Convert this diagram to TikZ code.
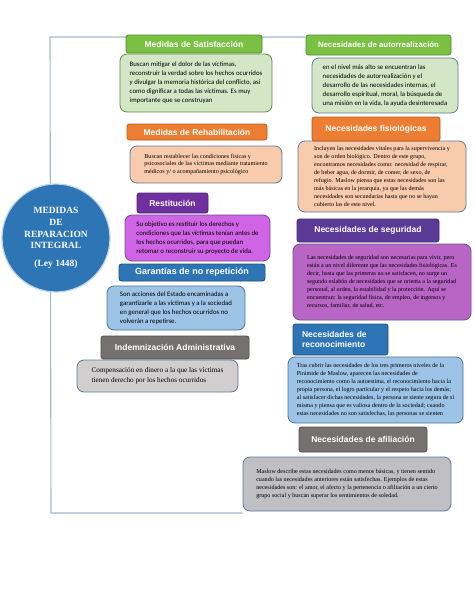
\documentclass[tikz,border=0pt]{standalone}
\usepackage{fontspec}
\setmainfont{Liberation Serif}
\setsansfont{Liberation Sans}
\newfontfamily\calfont{Carlito}
\usepackage{tikz}
\usetikzlibrary{positioning,backgrounds}

\definecolor{grnH}{HTML}{7AC143}
\definecolor{grnD}{HTML}{4F8A2B}
\definecolor{grnB}{HTML}{D3E7C6}
\definecolor{orgH}{HTML}{ED7D31}
\definecolor{orgD}{HTML}{B55A1D}
\definecolor{orgB}{HTML}{F8CBAD}
\definecolor{purH}{HTML}{7030A0}
\definecolor{purD}{HTML}{4B1F6F}
\definecolor{magB}{HTML}{D064E6}
\definecolor{indH}{HTML}{5A3A96}
\definecolor{indD}{HTML}{3F2A6E}
\definecolor{orcB}{HTML}{B865C5}
\definecolor{bluH}{HTML}{2E75B6}
\definecolor{bluD}{HTML}{1F4E79}
\definecolor{bluB}{HTML}{9DC3E6}
\definecolor{gryH}{HTML}{767171}
\definecolor{gryD}{HTML}{4D4D4D}
\definecolor{gryB}{HTML}{D0CECE}
\definecolor{gryC}{HTML}{BFBFC4}
\definecolor{edge}{HTML}{5B7A99}
\definecolor{linkc}{HTML}{A5B8CC}

\begin{document}
\begin{tikzpicture}[
    x=1pt, y=-1pt,
    hdr/.style={draw, rounded corners=2.5pt, line width=0.8pt, text=white, inner sep=0pt,
                align=center, font=\sffamily\bfseries\fontsize{8.5}{10}\selectfont},
    body/.style={draw=edge, rounded corners=7pt, line width=0.8pt, inner sep=0pt, align=left},
    calbody/.style={body, font=\calfont\fontsize{6.8}{9}\selectfont},
    serbody/.style={body, font=\fontsize{6.1}{7.9}\selectfont},
    link/.style={draw=linkc, line width=1.1pt}
]
\useasboundingbox (0,0) rectangle (474,613);

% left column: medidas
\node[calbody, fill=grnB, draw=grnD!70!gray, minimum width=152pt, minimum height=58pt] (bSat) at (196,83)
  {Buscan mitigar el dolor de las víctimas,\\ reconstruir la verdad sobre los hechos ocurridos\\ y divulgar la memoria histórica del conflicto, así\\ como dignificar a todas las víctimas. Es muy\\ importante que se construyan};
\node[hdr, fill=grnH, draw=grnD, minimum width=136pt, minimum height=18pt] (hSat) at (194,44) {Medidas de Satisfacción};

\node[serbody, fill=orgB, minimum width=152pt, minimum height=37pt] (bReh) at (206,164.5)
  {Buscan restablecer las condiciones físicas y\\ psicosociales de las víctimas mediante tratamiento\\ médicos y/ o acompañamiento psicológico};
\node[hdr, fill=orgH, draw=orgD, minimum width=140pt, minimum height=16pt] (hReh) at (197,132) {Medidas de Rehabilitación};

\node[calbody, fill=magB, draw=purD!80, minimum width=145pt, minimum height=46pt] (bRes) at (197.5,238)
  {Su objetivo es restituir los derechos y\\ condiciones que las víctimas tenían antes de\\ los hechos ocurridos, para que puedan\\ retomar o reconstruir su proyecto de vida.};
\node[hdr, fill=purH, draw=purD, minimum width=71pt, minimum height=20pt] (hRes) at (172.5,203) {Restitución};

\node[calbody, fill=bluB, draw=bluD!80, minimum width=138pt, minimum height=44pt] (bGar) at (176,308)
  {Son acciones del Estado encaminadas a\\ garantizarle a las víctimas y a la sociedad\\ en general que los hechos ocurridos no\\ volverán a repetirse.};
\node[hdr, fill=bluH, draw=bluD, minimum width=146pt, minimum height=17pt,
      font=\sffamily\bfseries\fontsize{9}{10}\selectfont] (hGar) at (192,272.5) {Garantías de no repetición};

\node[body, fill=gryB, font=\fontsize{7.2}{10}\selectfont, minimum width=161pt, minimum height=32pt] (bInd) at (157.5,376)
  {Compensación en dinero a la que las víctimas\\ tienen derecho por los hechos ocurridos};
\node[hdr, fill=gryH, draw=gryD, minimum width=148pt, minimum height=23pt] (hInd) at (175,347.5) {Indemnización Administrativa};

% central topic
\node[circle, fill=bluH, draw=bluB!70, line width=1.2pt, minimum size=108pt, inner sep=0pt, align=center, text=white,
      font=\bfseries\fontsize{9.5}{11.7}\selectfont] (main) at (56,238)
  {MEDIDAS\\ DE\\ REPARACION\\ INTEGRAL\\[6pt] (Ley 1448)};

% right column: necesidades
\node[calbody, fill=grnB, draw=edge, minimum width=146pt, minimum height=55pt] (bAut) at (385,85.5)
  {en el nivel más alto se encuentran las\\ necesidades de autorrealización y el\\ desarrollo de las necesidades internas, el\\ desarrollo espiritual, moral, la búsqueda de\\ una misión en la vida, la ayuda desinteresada};
\node[hdr, fill=grnH, draw=grnD, minimum width=145pt, minimum height=20pt,
      font=\sffamily\bfseries\fontsize{7.8}{9}\selectfont] (hAut) at (378.5,45) {Necesidades de autorrealización};

\node[serbody, fill=orgB, minimum width=168pt, minimum height=71pt] (bFis) at (382,176.5)
  {Incluyen las necesidades vitales para la supervivencia y\\ son de orden biológico. Dentro de este grupo,\\ encontramos necesidades como: necesidad de respirar,\\ de beber agua, de dormir, de comer, de sexo, de\\ refugio. Maslow piensa que estas necesidades son las\\ más básicas en la jerarquía, ya que las demás\\ necesidades son secundarias hasta que no se hayan\\ cubierto las de este nivel.};
\node[hdr, fill=orgH, draw=orgD, minimum width=128pt, minimum height=24pt] (hFis) at (376,129) {Necesidades fisiológicas};

\node[serbody, fill=orcB, draw=indD!80, minimum width=178pt, minimum height=76pt] (bSeg) at (382,282)
  {Las necesidades de seguridad son necesarias para vivir, pero\\ están a un nivel diferente que las necesidades fisiológicas. Es\\ decir, hasta que las primeras no se satisfacen, no surge un\\ segundo eslabón de necesidades que se orienta a la seguridad\\ personal, al orden, la estabilidad y la protección. Aquí se\\ encuentran: la seguridad física, de empleo, de ingresos y\\ recursos, familiar, de salud, etc.};
\node[hdr, fill=indH, draw=indD, minimum width=142pt, minimum height=23pt] (hSeg) at (368,230.5) {Necesidades de seguridad};

\node[serbody, fill=bluB, draw=bluD!80, minimum width=175pt, minimum height=66pt] (bRec) at (375.5,390)
  {Tras cubrir las necesidades de los tres primeros niveles de la\\ Pirámide de Maslow, aparecen las necesidades de\\ reconocimiento como la autoestima, el reconocimiento hacia la\\ propia persona, el logro particular y el respeto hacia los demás;\\ al satisfacer dichas necesidades, la persona se siente segura de sí\\ misma y piensa que es valiosa dentro de la sociedad; cuando\\ estas necesidades no son satisfechas, las personas se sienten};
\node[hdr, fill=bluH, draw=bluD, minimum width=95pt, minimum height=31pt, text width=77pt, align=left] (hRec) at (340.5,339.5)
  {Necesidades de\\ reconocimiento};

\node[serbody, fill=gryC, minimum width=208pt, minimum height=54pt] (bAfi) at (347,484)
  {Maslow describe estas necesidades como menos básicas, y tienen sentido\\ cuando las necesidades anteriores están satisfechas. Ejemplos de estas\\ necesidades son: el amor, el afecto y la pertenencia o afiliación a un cierto\\ grupo social y buscan superar los sentimientos de soledad.};
\node[hdr, fill=gryH, draw=gryD, minimum width=128pt, minimum height=25pt] (hAfi) at (363,439.5) {Necesidades de afiliación};

% bracket behind the boxes
\coordinate (topc) at (50,37);
\coordinate (botc) at (51,513);
\begin{scope}[on background layer]
\draw[link] (hAut.west |- topc) -- (topc) -- (botc) -- (bAfi.south west |- botc);
\end{scope}
\end{tikzpicture}
\end{document}
